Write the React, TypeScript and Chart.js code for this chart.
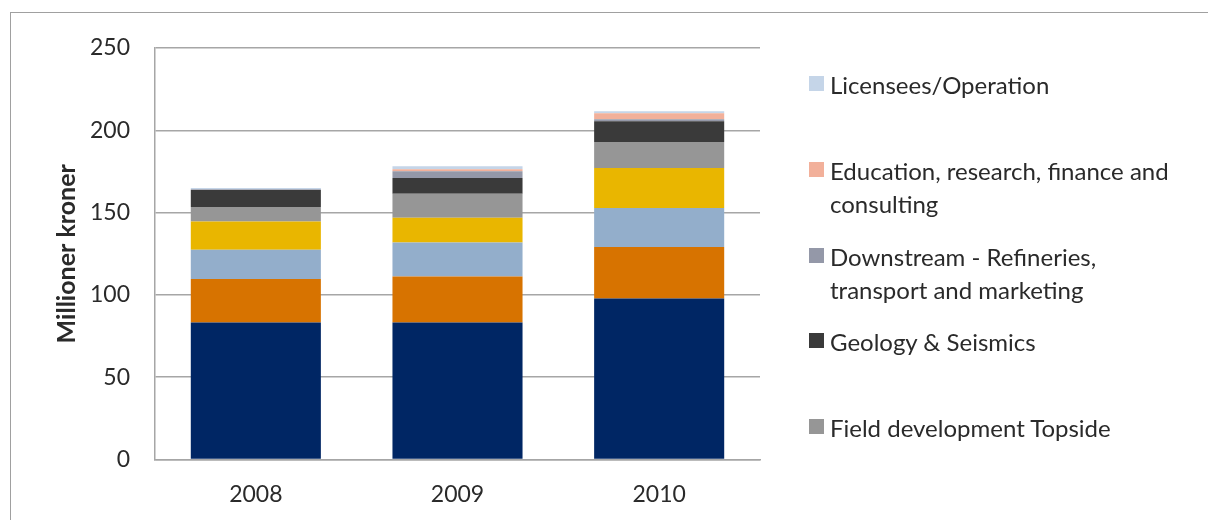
import React, { useEffect, useRef } from "react";
import { Chart, registerables } from "chart.js";

Chart.register(...registerables);

const categories = ["2008", "2009", "2010"];

const seriesLabels = [
  "Other 1",
  "Other 2",
  "Other 3",
  "Other 4",
  "Field development Topside",
  "Geology & Seismics",
  "Downstream - Refineries, transport and marketing",
  "Education, research, finance and consulting",
  "Licensees/Operation",
];

const seriesColors = [
  "#002664",
  "#D77300",
  "#93AECB",
  "#E9B600",
  "#969696",
  "#3A3A3A",
  "#9498A8",
  "#F2B09A",
  "#C5D5E8",
];

const other1 = [83.2, 83.2, 97.8];
const other2 = [26.4, 28.0, 31.3];
const other3 = [17.8, 20.7, 23.7];
const other4 = [17.2, 15.0, 24.3];
const fieldTopside = [8.8, 14.6, 15.8];
const geology = [10.3, 9.5, 12.6];
const downstream = [0.5, 4.1, 1.2];
const education = [0.0, 1.2, 3.6];
const licensees = [0.8, 1.8, 1.3];

const seriesValues = [other1, other2, other3, other4, fieldTopside, geology, downstream, education, licensees];

// legend shows the top five series, top first
const legendIndices = [8, 7, 6, 5, 4];

const yTicksMin = 0;
const yTicksMax = 250;
const yStep = 50;
const yTitle = "Millioner kroner";

const FONT = "Lato, 'Open Sans', sans-serif";
const TEXT = "#2a2a2a";
const GRID = "#a6a6a6";

export default function App() {
  const ref = useRef<HTMLCanvasElement | null>(null);

  useEffect(() => {
    if (!ref.current) return;
    const chart = new Chart(ref.current, {
      type: "bar",
      data: {
        labels: categories,
        datasets: seriesValues.map((vals, i) => ({
          label: seriesLabels[i],
          data: vals,
          backgroundColor: seriesColors[i],
          borderWidth: 0,
          barPercentage: 0.645,
          categoryPercentage: 1,
        })),
      },
      options: {
        responsive: false,
        animation: false,
        layout: { padding: { left: 0, top: 48, right: 448, bottom: 0.5 } },
        plugins: {
          legend: { display: false },
          tooltip: { enabled: false },
          title: { display: false },
        },
        scales: {
          x: {
            stacked: true,
            grid: { display: false, drawTicks: false },
            border: { display: true, color: GRID, width: 1.5 },
            ticks: { color: TEXT, font: { family: FONT, size: 23 }, padding: 21 },
            afterFit: (scale: any) => {
              scale.height = 60;
            },
          },
          y: {
            stacked: true,
            min: yTicksMin,
            max: yTicksMax,
            ticks: {
              stepSize: yStep,
              color: TEXT,
              font: { family: FONT, size: 23 },
              padding: 25,
            },
            grid: { color: GRID, lineWidth: 1.5, drawTicks: false },
            border: { display: true, color: GRID, width: 1.5 },
            title: {
              display: true,
              text: yTitle,
              color: TEXT,
              font: { family: FONT, size: 25, weight: "bold" },
              padding: { top: 52, bottom: 0 },
            },
            afterFit: (scale: any) => {
              scale.width = 155;
            },
          },
        },
      },
    });
    return () => chart.destroy();
  }, []);

  return (
    <div style={{ position: "absolute", left: 0, top: 0, width: 1208, height: 520, overflow: "hidden", background: "#fff" }}>
      <div
        style={{
          position: "absolute",
          left: 10,
          top: 12,
          width: 1300,
          height: 600,
          borderLeft: "1.5px solid #a0a0a0",
          borderTop: "1.5px solid #a0a0a0",
        }}
      />
      <canvas ref={ref} width={1208} height={520} style={{ position: "absolute", left: 0, top: 0, display: "block" }} />
      {legendIndices.map((si, k) => (
        <div
          key={si}
          style={{ position: "absolute", left: 809, top: 68 + k * 85.75, width: 390 }}
        >
          <div
            style={{
              position: "absolute",
              left: 0,
              top: 8,
              width: 15,
              height: 15,
              background: seriesColors[si],
            }}
          />
          <div
            style={{
              marginLeft: 21,
              width: 352,
              fontFamily: FONT,
              fontSize: 24,
              lineHeight: "33px",
              color: TEXT,
            }}
          >
            {seriesLabels[si]}
          </div>
        </div>
      ))}
    </div>
  );
}
